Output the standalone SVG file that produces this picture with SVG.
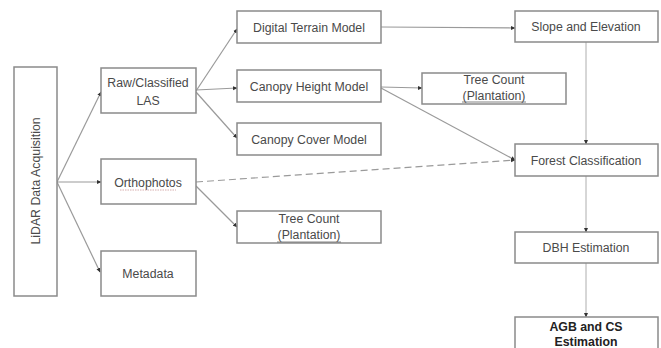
<svg xmlns="http://www.w3.org/2000/svg" width="661" height="348" viewBox="0 0 661 348">
<style>
.box{fill:#fff;stroke:#8a8a8a;stroke-width:1.5}
.t{font-family:"Liberation Sans",Arial,sans-serif;font-size:12.3px;fill:#4a4a4a;text-anchor:middle}
.b{font-weight:bold;fill:#222}
.c{fill:none;stroke:#9a9a9a;stroke-width:1.2;marker-end:url(#ah)}
.d{stroke-dasharray:7 4}
.thin{stroke-width:0.8}
</style>
<defs>
<marker id="ah" markerWidth="5" markerHeight="5" refX="4" refY="2.5" orient="auto" markerUnits="userSpaceOnUse">
<path d="M0,0.5 L4.5,2.5 L0,4.5 z" fill="#333"/>
</marker>
</defs>
<rect width="661" height="348" fill="#fff"/>
<g id="connectors">
<path class="c" d="M57,182 L101,92"/>
<path class="c" d="M57,182 L101,182"/>
<path class="c" d="M57,182 L100,272"/>
<path class="c" d="M196,91 L237,29"/>
<path class="c" d="M196,90 L237,88"/>
<path class="c" d="M196,92 L237,138"/>
<path class="c" d="M381,27 L515,28"/>
<path class="c" d="M381,87 L422,88"/>
<path class="c" d="M381,88 L515,160"/>
<path class="c d" d="M196,182 L515,160"/>
<path class="c" d="M196,186 L237,227"/>
<path class="c thin" d="M586,42 L586,144"/>
<path class="c thin" d="M586,176 L586,232"/>
<path class="c thin" d="M586,263 L586,317"/>
</g>
<g id="lidar">
<rect class="box" x="14" y="67" width="43" height="229"/>
<text class="t" transform="translate(40,181) rotate(-90)">LiDAR Data Acquisition</text>
</g>
<g id="raw">
<rect class="box" x="101" y="68" width="95" height="45"/>
<text class="t" x="148" y="87">Raw/Classified</text>
<text class="t" x="148" y="105">LAS</text>
</g>
<g id="ortho">
<rect class="box" x="101" y="159" width="95" height="45"/>
<text class="t" x="148" y="187">Orthophotos</text>
<line x1="120" y1="190" x2="176" y2="190" stroke="#c99" stroke-width="0.8" stroke-dasharray="1.5 1"/>
</g>
<g id="metadata">
<rect class="box" x="101" y="251" width="95" height="45"/>
<text class="t" x="148" y="278">Metadata</text>
</g>
<g id="dtm">
<rect class="box" x="237" y="11" width="144" height="32"/>
<text class="t" x="309" y="31.5">Digital Terrain Model</text>
</g>
<g id="chm">
<rect class="box" x="237" y="70" width="144" height="32"/>
<text class="t" x="309" y="90.5">Canopy Height Model</text>
</g>
<g id="ccm">
<rect class="box" x="237" y="123" width="144" height="32"/>
<text class="t" x="309" y="143.5">Canopy Cover Model</text>
</g>
<g id="treecount1">
<rect class="box" x="422" y="73" width="144" height="31"/>
<text class="t" x="494" y="84">Tree Count</text>
<text class="t" x="494" y="100">(Plantation)</text>
<line x1="462" y1="102" x2="526" y2="102" stroke="#666" stroke-width="0.8"/>
</g>
<g id="treecount2">
<rect class="box" x="237" y="211" width="144" height="32"/>
<text class="t" x="309" y="223">Tree Count</text>
<text class="t" x="309" y="239">(Plantation)</text>
<line x1="277" y1="242" x2="341" y2="242" stroke="#666" stroke-width="0.8"/>
</g>
<g id="slope">
<rect class="box" x="515" y="11" width="143" height="31"/>
<text class="t" x="586" y="31">Slope and Elevation</text>
</g>
<g id="forest">
<rect class="box" x="515" y="144" width="143" height="32"/>
<text class="t" x="586" y="164.5">Forest Classification</text>
</g>
<g id="dbh">
<rect class="box" x="515" y="232" width="143" height="31"/>
<text class="t" x="586" y="252">DBH Estimation</text>
</g>
<g id="agb">
<rect class="box" x="515" y="317" width="143" height="40"/>
<text class="t b" x="586" y="331">AGB and CS</text>
<text class="t b" x="586" y="346">Estimation</text>
</g>
</svg>
